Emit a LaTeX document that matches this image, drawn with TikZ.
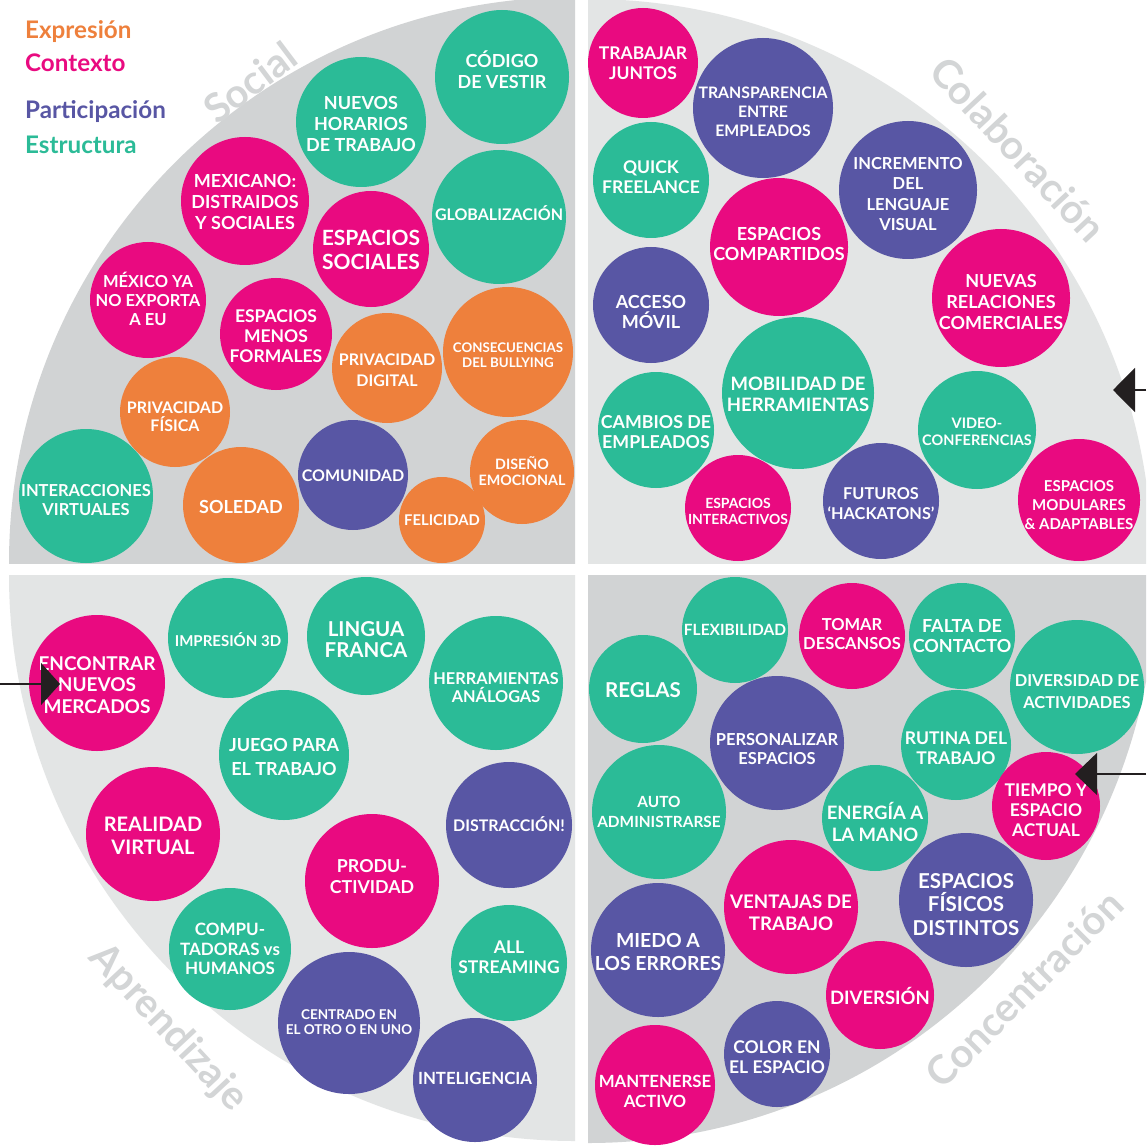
\documentclass[tikz,border=0pt]{standalone}
\usepackage{fontspec}
\setmainfont{Lato}
\usetikzlibrary{arrows.meta}
\definecolor{cgreen}{RGB}{43,187,151}
\definecolor{cmag}{RGB}{233,10,128}
\definecolor{cpur}{RGB}{88,86,164}
\definecolor{corg}{RGB}{238,128,60}
\definecolor{gdark}{RGB}{209,211,212}
\definecolor{glight}{RGB}{227,229,229}
\definecolor{glabel}{RGB}{211,213,214}
\definecolor{arrc}{RGB}{35,31,32}
\def\lsp{1.15}
\tikzset{
  bub/.style={circle, draw=none, inner sep=0pt, outer sep=0pt},
  btxt/.style={text=white, align=center, inner sep=0pt},
  fs/.style={font={\linespread{\lsp}\fontsize{#1}{#1}\bfseries\selectfont}},
  dy/.style={yshift=-#1pt},
  ls/.style={/utils/exec={\def\lsp{#1}}},
  lbl/.style={text=glabel, font={\fontsize{40}{40}\bfseries\selectfont}, inner sep=0pt},
  leg/.style={anchor=base west, inner sep=0pt, font={\fontsize{24.2}{24.2}\bfseries\selectfont}},
  arr/.style={draw=arrc, line width=1.6pt},
}
\newcommand\bubble[7][]{%
  \node[bub, fill=#6, minimum size=#5*2] (#2) at (#3,#4) {};
  \node[btxt, fs=#7, #1] (#2t) at (#2) {\bubtext};}
\newcommand\bub[8][]{\def\bubtext{#8}\bubble[#1]{#2}{#3}{#4}{#5}{#6}{#7}}
\begin{document}
\begin{tikzpicture}[x=1pt,y=-1pt]
\useasboundingbox (0,0) rectangle (1146,1147);
\fill[white] (0,0) rectangle (1146,1147);
% quadrants
\begin{scope}\clip (0,0) rectangle (575,563); \fill[gdark] (575,563) circle[radius=566]; \end{scope}
\begin{scope}\clip (588,0) rectangle (1146,563); \fill[glight] (588,563) circle[radius=564]; \end{scope}
\begin{scope}\clip (0,575) rectangle (575,1147); \fill[glight] (575,575) circle[radius=566]; \end{scope}
\begin{scope}\clip (588,575) rectangle (1146,1147); \fill[gdark] (588,575) circle[radius=568]; \end{scope}
% quadrant labels
\node[lbl, rotate=37] (lsoc) at (250,82) {Social};
\node[lbl, rotate=-47] (lcol) at (1018,149) {Colaboración};
\node[lbl, rotate=-47] (lapr) at (168,1028) {Aprendizaje};
\node[lbl, rotate=45] (lcon) at (1024,989) {Concentración};
% legend
\node[leg, text=corg] (lexp) at (25,39) {Expresión};
\node[leg, text=cmag] (lctx) at (25,72) {Contexto};
\node[leg, text=cpur] (lpar) at (25,119) {Participación};
\node[leg, text=cgreen] (lest) at (25,154) {Estructura};
% top-left: Social
\bub[dy=-7]{cod}{502}{77}{67}{cgreen}{18}{CÓDIGO\\DE VESTIR}
\bub[dy=2]{nue}{361}{122}{65}{cgreen}{18}{NUEVOS\\HORARIOS\\DE TRABAJO}
\bub[dy=-4]{glo}{499}{217}{67}{cgreen}{16}{GLOBALIZACIÓN}
\bub[dy=1]{mex}{245}{201}{64}{cmag}{18}{MEXICANO:\\DISTRAIDOS\\Y SOCIALES}
\bub[dy=1]{esoc}{371}{249}{58}{cmag}{21}{ESPACIOS\\SOCIALES}
\bub[dy=-1]{mya}{148}{300}{58}{cmag}{16.5}{MÉXICO YA\\NO EXPORTA\\A EU}
\bub[dy=2]{emf}{276}{334}{56}{cmag}{17.5}{ESPACIOS\\MENOS\\FORMALES}
\bub[dy=2, ls=1.3]{pdig}{387}{368}{55}{corg}{16}{PRIVACIDAD\\DIGITAL}
\bub[dy=3]{cbul}{508}{352}{65}{corg}{13.3}{CONSECUENCIAS\\DEL BULLYING}
\bub[dy=5]{pfis}{175}{412}{55}{corg}{16}{PRIVACIDAD\\FÍSICA}
\bub[dy=4]{ivir}{86}{496}{67}{cgreen}{16.5}{INTERACCIONES\\VIRTUALES}
\bub[dy=2]{sol}{241}{505}{58}{corg}{18}{SOLEDAD}
\bub[dy=1]{com}{353}{475}{55}{cpur}{16}{COMUNIDAD}
\bub[dy=-1]{dem}{522}{472}{52}{corg}{14.3}{DISEÑO\\EMOCIONAL}
\bub{fel}{442}{520}{43}{corg}{14.8}{FELICIDAD}
% top-right: Colaboracion
\bub{trj}{643}{63}{55}{cmag}{17.5}{TRABAJAR\\JUNTOS}
\bub[dy=4, ls=1.22]{tee}{763}{108}{70}{cpur}{15.8}{TRANSPARENCIA\\ENTRE\\EMPLEADOS}
\bub[dy=-3]{qf}{651}{180}{58}{cgreen}{17.5}{QUICK\\FREELANCE}
\bub[dy=4, ls=1.25]{idl}{908}{190}{69}{cpur}{16.5}{INCREMENTO\\DEL\\LENGUAJE\\VISUAL}
\bub[dy=-3]{ecomp}{779}{247}{69}{cmag}{18}{ESPACIOS\\COMPARTIDOS}
\bub[dy=7]{am}{651}{305}{58}{cpur}{18}{ACCESO\\MÓVIL}
\bub[dy=4]{nrc}{1001}{298}{69}{cmag}{18}{NUEVAS\\RELACIONES\\COMERCIALES}
\bub[dy=1.5]{mdh}{798}{393}{76}{cgreen}{18.5}{MOBILIDAD DE\\HERRAMIENTAS}
\bub[dy=2]{cde}{656}{430}{58}{cgreen}{17.8}{CAMBIOS DE\\EMPLEADOS}
\bub[dy=1.5]{vc}{977}{430}{59}{cgreen}{14.5}{VIDEO-\\CONFERENCIAS}
\bub[dy=3]{eint}{738}{508}{53}{cmag}{14}{ESPACIOS\\INTERACTIVOS}
\bub[dy=2.5, ls=1.25]{fh}{881}{501}{58}{cpur}{16.3}{FUTUROS\\‘HACKATONS’}
\bub[dy=5, ls=1.28]{ema}{1079}{500}{61}{cmag}{15}{ESPACIOS\\MODULARES\\\& ADAPTABLES}
% bottom-left: Aprendizaje
\bub[dy=2]{enm}{97}{683}{68}{cmag}{19}{ENCONTRAR\\NUEVOS\\MERCADOS}
\bub[dy=2]{imp}{228}{638}{60}{cgreen}{15}{IMPRESIÓN 3D}
\bub[dy=3.5, ls=1.0]{lf}{366}{636}{59}{cgreen}{20.5}{LINGUA\\FRANCA}
\bub[dy=2, ls=1.3]{jpt}{284}{755}{65}{cgreen}{18}{JUEGO PARA\\EL TRABAJO}
\bub[dy=4.5]{ha}{496}{683}{67}{cgreen}{16.3}{HERRAMIENTAS\\ANÁLOGAS}
\bub[dy=1.5]{rv}{153}{834}{67}{cmag}{20}{REALIDAD\\VIRTUAL}
\bub[dy=-1]{dis}{509}{825}{63}{cpur}{16}{DISTRACCIÓN!}
\bub[dy=-4.5]{prod}{372}{881}{67}{cmag}{17.8}{PRODU-\\CTIVIDAD}
\bub{cth}{230}{949}{61}{cgreen}{17}{COMPU-\\TADORAS vs\\HUMANOS}
\bub[dy=-5.5]{as}{509}{963}{58}{cgreen}{17.5}{ALL\\STREAMING}
\bub[dy=-1]{ceo}{349}{1023}{71}{cpur}{13.5}{CENTRADO EN\\EL OTRO O EN UNO}
\bub[dy=-2]{int}{475}{1080}{62}{cpur}{16.8}{INTELIGENCIA}
% bottom-right: Concentracion
\bub{flex}{735}{630}{53}{cgreen}{15.5}{FLEXIBILIDAD}
\bub[dy=-1.5]{tom}{852}{636}{53}{cmag}{16.5}{TOMAR\\DESCANSOS}
\bub{fal}{962}{636}{53}{cgreen}{18}{FALTA DE\\CONTACTO}
\bub[dy=1]{reg}{643}{689}{54}{cgreen}{20.5}{REGLAS}
\bub[dy=4.5, ls=1.3]{dda}{1077}{687}{67}{cgreen}{16.4}{DIVERSIDAD DE\\ACTIVIDADES}
\bub[dy=6]{pes}{777}{743}{67}{cpur}{16.5}{PERSONALIZAR\\ESPACIOS}
\bub[dy=3]{rdt}{956}{745}{55}{cgreen}{17.5}{RUTINA DEL\\TRABAJO}
\bub[ls=1.27]{aad}{659}{812}{67}{cgreen}{15.4}{AUTO\\ADMINISTRARSE}
\bub[dy=4]{ene}{875}{818}{53}{cgreen}{18.5}{ENERGÍA A\\LA MANO}
\bub[dy=4.5]{tea}{1046}{806}{54}{cmag}{17.5}{TIEMPO Y\\ESPACIO\\ACTUAL}
\bub[dy=5.5]{vdt}{791}{907}{67}{cmag}{18.7}{VENTAJAS DE\\TRABAJO}
\bub[dy=4.5]{efd}{966}{900}{67}{cpur}{20.5}{ESPACIOS\\FÍSICOS\\DISTINTOS}
\bub[dy=2]{mae}{658}{950}{67}{cpur}{19.4}{MIEDO A\\LOS ERRORES}
\bub[dy=1]{div}{880}{995}{54}{cmag}{18.5}{DIVERSIÓN}
\bub[dy=3.5]{cee}{777}{1054}{53}{cpur}{17.5}{COLOR EN\\EL ESPACIO}
\bub[dy=6.5]{mac}{655}{1085}{60}{cmag}{16.8}{MANTENERSE\\ACTIVO}
% arrows
\coordinate (a1s) at (1146,390); \coordinate (a1e) at (1113,390);
\coordinate (a2s) at (0,684);    \coordinate (a2e) at (60,684);
\coordinate (a3s) at (1146,774); \coordinate (a3e) at (1075,774);
\draw[arr, -{Triangle[length=22pt,width=44pt]}] (a1s) -- (a1e);
\draw[arr, -{Triangle[length=19pt,width=42pt]}] (a2s) -- (a2e);
\draw[arr, -{Triangle[length=22pt,width=42pt]}] (a3s) -- (a3e);
\end{tikzpicture}
\end{document}
